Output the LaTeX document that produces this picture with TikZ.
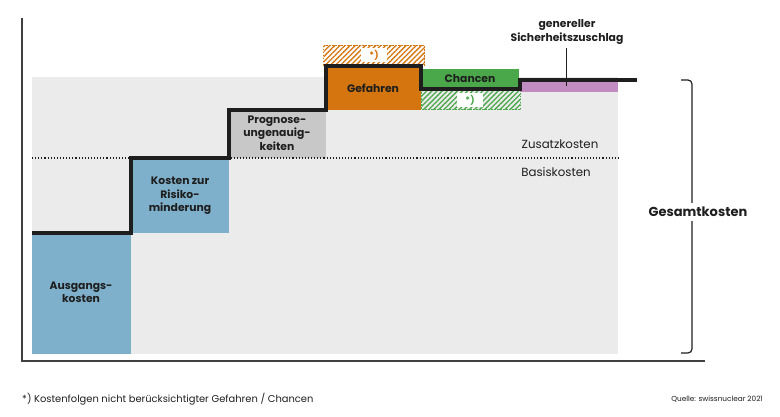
\documentclass[tikz,border=0pt]{standalone}
\usepackage{fontspec}
\setmainfont{Poppins}
\usetikzlibrary{patterns.meta}
\definecolor{bggray}{HTML}{EBEBEB}
\definecolor{ausgang}{HTML}{7FB0CB}
\definecolor{proggray}{HTML}{C8C8C8}
\definecolor{gefahr}{HTML}{D4750F}
\definecolor{chance}{HTML}{4AA84A}
\definecolor{zuschlag}{HTML}{C08CC2}
\definecolor{ink}{HTML}{1E1E1E}

\begin{document}
\begin{tikzpicture}[x=1pt,y=-1pt,
	lbl/.style={font=\bfseries\fontsize{10.8}{13.5}\selectfont, align=center, text=ink, inner sep=0pt},
	plain/.style={font=\fontsize{11.8}{14}\selectfont, text=ink, inner sep=0pt},
	hatch/.style={pattern={Lines[angle=45,distance=3.6pt,line width=1.3pt]}, pattern color=#1},
	hatchrand/.style={draw=#1, line width=0.8pt, dash pattern=on 1.5pt off 1.5pt},
	star/.style={fill=white, text=#1, font=\bfseries\fontsize{9}{10}\selectfont, minimum width=26pt, minimum height=14pt, inner sep=0pt}]

	\useasboundingbox (0,0) rectangle (780,416);

	\coordinate (O) at (22,361);
	\coordinate (YT) at (22,18);
	\coordinate (XR) at (705,361);

	% Flaechen
	\fill[bggray] (32,77) rectangle (618,354);
	\fill[ausgang] (32,233) rectangle (131,354);
	\fill[ausgang] (131,158) rectangle (229,233);
	\fill[proggray] (229,110) rectangle (326,158);
	\fill[gefahr] (326,66) rectangle (421,110);
	\fill[chance] (421,69) rectangle (519,89);
	\fill[zuschlag] (520,80) rectangle (618,92);

	% nicht beruecksichtigt
	\fill[hatch=gefahr] (323.5,45.5) rectangle (424.5,65);
	\draw[hatchrand=gefahr] (323.5,45.5) rectangle (424.5,65);
	\fill[hatch=chance] (421.5,89) rectangle (520.5,109.5);
	\draw[hatchrand=chance] (421.5,89) rectangle (520.5,109.5);
	\node[star=gefahr] (sg) at (374,55) {*)};
	\node[star=chance] (sc) at (470,100) {*)};

	\draw[dotted, line width=1.1pt, ink] (32,158) -- (619,158);

	% Treppe
	\draw[ink, line width=3.6pt] (32,233) -- (131,233) -- (131,158) -- (229,158) -- (229,110)
		-- (326,110) -- (326,66) -- (421,66) -- (421,89) -- (520,89) -- (520,80) -- (637,80);

	% Achsen
	\draw[ink!85, line width=1.4pt] (YT) -- (O) -- (XR);

	\node[lbl] (aus) at (81,292) {Ausgangs-\\kosten};
	\node[lbl] (risk) at (180,196) {Kosten zur\\Risiko-\\minderung};
	\node[lbl] (prog) at (277,133) {Prognose-\\ungenauig-\\keiten};
	\node[lbl] (gef) at (373,88) {Gefahren};
	\node[lbl] (cha) at (470,79) {Chancen};
	\node[lbl] (sich) at (567,32) {genereller\\Sicherheitszuschlag};
	\coordinate (sichfuss) at (566,86);
	\draw[ink, line width=1pt] (sich.south -| sichfuss) ++(0,4) -- (sichfuss);

	\node[plain] (zus) at (560,144) {Zusatzkosten};
	\node[plain] (bas) at (556,172) {Basiskosten};

	% Klammer
	\draw[ink, line width=1.2pt, rounded corners=4pt] (681,80) -- (692,80) -- (692,353) -- (681,353);
	\node[lbl, font=\bfseries\fontsize{13}{15}\selectfont, fill=white, inner ysep=4pt] (ges) at (698,212) {Gesamtkosten};

	\node[plain, font=\fontsize{9.9}{11}\selectfont, anchor=west] (fn) at (22,399) {*) Kostenfolgen nicht berücksichtigter Gefahren / Chancen};
	\node[plain, font=\fontsize{7.3}{9}\selectfont, anchor=east] (src) at (763,399) {Quelle: swissnuclear 2021};
\end{tikzpicture}
\end{document}
